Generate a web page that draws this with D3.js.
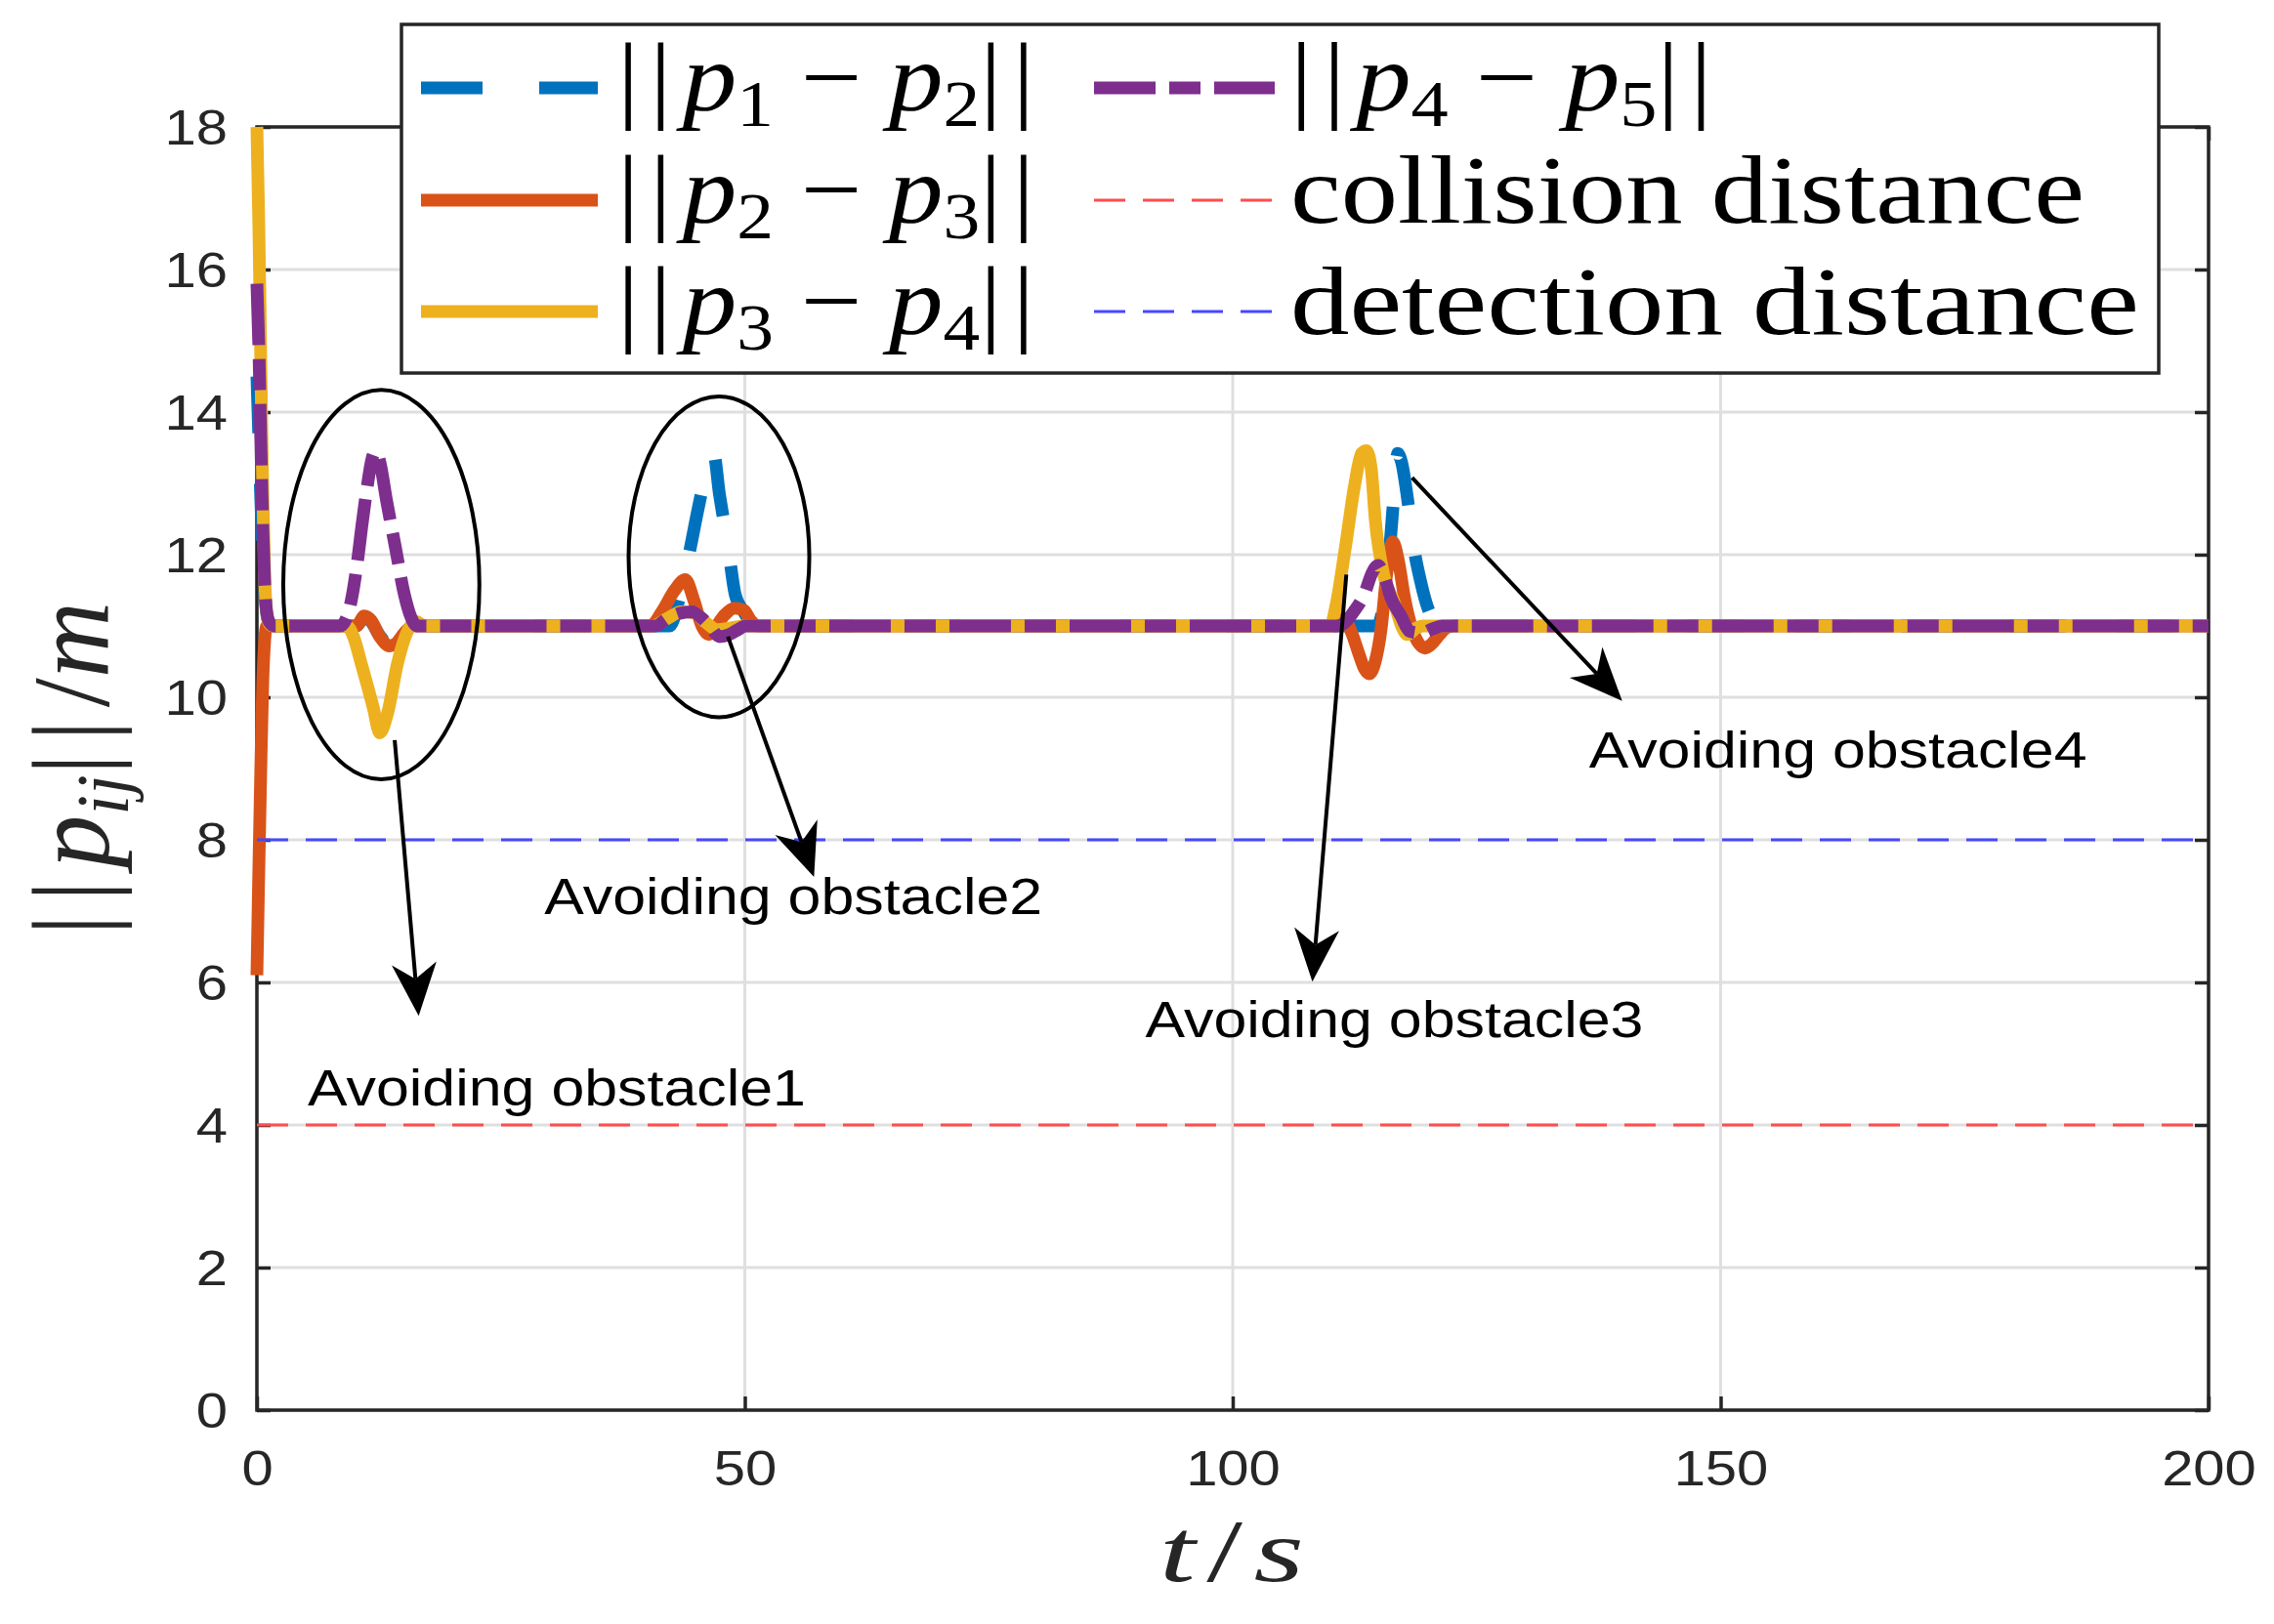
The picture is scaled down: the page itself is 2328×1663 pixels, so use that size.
<!DOCTYPE html>
<html><head><meta charset="utf-8">
<script src="https://cdn.jsdelivr.net/npm/d3@7"></script>
<style>body{margin:0;background:#fff}</style>
</head><body>
<svg id="c" width="2328" height="1663"></svg>
<script>
// ---------------- data ----------------
const xTicks = [0, 50, 100, 150, 200];
const yTicks = [0, 2, 4, 6, 8, 10, 12, 14, 16, 18];

// ||p1 - p2||  (t [s], distance [m])
const p12 = [[0,14.5],[0.3,13.2],[0.6,12.0],[0.9,11.3],[1.2,11.05],[1.6,11.0],
  [10.2,11.0],[11.0,11.12],[11.7,11.06],[12.6,10.86],[13.6,10.74],[14.3,10.77],[15.1,10.91],[16.0,11.0],
  [42.3,11.0],[43.3,11.4],[44.2,11.95],[45.3,12.7],[46.3,13.3],[46.8,13.42],[47.4,12.85],[48.3,12.1],[49.0,11.45],[49.8,11.22],[50.7,11.05],[51.5,11.0],
  [114.8,11.0],[115.6,11.45],[116.1,12.1],[116.5,12.8],[116.9,13.42],[117.3,13.3],[117.9,12.8],[118.5,12.15],[119.3,11.6],[120.0,11.25],[120.8,11.05],[121.6,11.0],
  [200,11.0]];
// ||p2 - p3||
const p23 = [[0,6.1],[0.2,7.6],[0.4,9.0],[0.6,10.2],[0.8,10.8],[1.0,11.0],[1.5,11.0],
  [10.2,11.0],[11.0,11.14],[11.7,11.08],[12.6,10.85],[13.6,10.72],[14.3,10.76],[15.1,10.9],[16.0,11.0],
  [40.3,11.0],[41.5,11.2],[42.8,11.5],[43.9,11.65],[44.8,11.35],[45.6,11.0],[46.3,10.88],[47.0,10.98],[47.9,11.15],[49.0,11.25],[49.9,11.22],[50.6,11.08],[51.3,11.0],
  [110.5,11.0],[111.4,11.1],[112.2,10.9],[112.9,10.62],[113.5,10.4],[114.0,10.33],[114.6,10.5],[115.2,10.95],[115.8,11.75],[116.4,12.18],[117.0,11.9],[117.6,11.4],[118.4,10.95],[119.1,10.75],[119.7,10.69],[120.4,10.75],[121.2,10.88],[122.0,10.98],[122.8,11.0],
  [200,11.0]];
// ||p3 - p4||
const p34 = [[0,18],[0.2,16.6],[0.4,14.7],[0.6,12.9],[0.8,11.7],[1.0,11.2],[1.3,11.03],[1.7,11.0],
  [9.2,11.0],[9.9,10.85],[10.7,10.47],[11.9,9.87],[12.6,9.5],[13.4,9.78],[14.4,10.47],[15.6,10.97],[16.3,11.06],[17.2,11.0],
  [40.5,11.0],[42.0,11.1],[43.5,11.2],[44.9,11.18],[46.0,11.05],[47.2,10.95],[48.5,10.97],[50.0,11.0],
  [110.0,11.0],[110.6,11.3],[111.5,12.06],[112.5,12.98],[113.2,13.42],[113.7,13.46],[114.2,13.2],[114.6,12.5],[115.5,11.7],[116.5,11.35],[117.3,11.0],[117.9,10.88],[118.8,10.97],[119.5,11.0],
  [200,11.0]];
// ||p4 - p5||
const p45 = [[0,15.8],[0.2,14.9],[0.4,13.6],[0.6,12.4],[0.8,11.6],[1.0,11.2],[1.3,11.05],[1.8,11.0],
  [8.5,11.0],[9.3,11.15],[9.8,11.45],[10.3,11.9],[10.8,12.45],[11.3,12.95],[11.8,13.35],[12.2,13.45],[12.6,13.3],[13.3,12.75],[14.2,12.1],[15.1,11.45],[15.8,11.12],[16.4,11.0],
  [40.8,11.0],[42.0,11.1],[43.4,11.18],[44.6,11.2],[45.5,11.12],[46.4,11.0],[47.4,10.85],[48.4,10.88],[49.2,10.94],[50.1,11.0],
  [110.6,11.0],[111.5,11.05],[112.4,11.2],[113.5,11.45],[114.3,11.75],[114.9,11.85],[115.5,11.7],[116.2,11.4],[117.2,11.15],[118.2,10.92],[119.3,10.9],[120.5,10.96],[121.5,11.0],
  [200,11.0]];

const collisionDistance = 4;
const detectionDistance = 8;

// annotations (data coordinates)
const ellipseCenters = [[12.75, 11.58], [47.35, 11.97]];
const ellipseRadii = [[10.05, 2.73], [9.26, 2.25]];
const arrowStarts = [[14.12, 9.40], [48.27, 10.85], [111.64, 11.72], [118.38, 13.08]];
const arrowEnds = [[16.58, 5.53], [57.09, 7.48], [108.16, 6.01], [139.91, 9.95]];
const noteTexts = ["Avoiding obstacle1", "Avoiding obstacle2", "Avoiding obstacle3", "Avoiding obstacle4"];
const notePos = [[5.21, 4.27], [29.45, 6.96], [91.04, 5.23], [136.5, 9.01]];

// ---------------- drawing ----------------
const W = 2328, H = 1663;
const svg = d3.select("#c");
svg.append("rect").attr("width", W).attr("height", H).attr("fill", "#fff");

const x = d3.scaleLinear().domain([0, 200]).range([263, 2261]);
const y = d3.scaleLinear().domain([0, 18]).range([1444, 130]);
const AX = "#262626";
const SANS = "'Liberation Sans', Arial, Helvetica, sans-serif";
const SERIF = "'Liberation Serif', 'Times New Roman', serif";

// grid
svg.append("g").selectAll("line.gx").data(xTicks).join("line").attr("class","gx")
  .attr("x1", d => x(d)).attr("x2", d => x(d)).attr("y1", y(0)).attr("y2", y(18))
  .attr("stroke", "#dfdfdf").attr("stroke-width", 3);
svg.append("g").selectAll("line.gy").data(yTicks).join("line").attr("class","gy")
  .attr("y1", d => y(d)).attr("y2", d => y(d)).attr("x1", x(0)).attr("x2", x(200))
  .attr("stroke", "#dfdfdf").attr("stroke-width", 3);

function styleAxis(g) {
  g.attr("font-size", null).attr("font-family", null);
  g.select(".domain").remove();
  g.selectAll("line").attr("stroke", AX).attr("stroke-width", 3.5);
}
const ax = svg.append("g").attr("transform", `translate(0,${y(0)})`)
  .call(d3.axisBottom(x).tickValues(xTicks).tickSizeInner(-14).tickSizeOuter(0));
styleAxis(ax);
ax.selectAll("text").attr("y", 77).attr("dy", null).attr("font-size", 50)
  .attr("font-family", SANS).attr("fill", AX).attr("transform", "scale(1.16,1)");

const ay = svg.append("g").attr("transform", `translate(${x(0)},0)`)
  .call(d3.axisLeft(y).tickValues(yTicks).tickSizeInner(-14).tickSizeOuter(0));
styleAxis(ay);
ay.selectAll("text").attr("x", 0).attr("dy", "0.35em").attr("font-size", 50)
  .attr("font-family", SANS).attr("fill", AX).attr("text-anchor", "end")
  .attr("transform", "translate(-30,0) scale(1.16,1)");

const at = svg.append("g").attr("transform", `translate(0,${y(18)})`)
  .call(d3.axisTop(x).tickValues(xTicks).tickSizeInner(-14).tickSizeOuter(0).tickFormat(""));
styleAxis(at);
const ar = svg.append("g").attr("transform", `translate(${x(200)},0)`)
  .call(d3.axisRight(y).tickValues(yTicks).tickSizeInner(-14).tickSizeOuter(0).tickFormat(""));
styleAxis(ar);

svg.append("rect").attr("x", x(0)).attr("y", y(18)).attr("width", x(200) - x(0)).attr("height", y(0) - y(18))
  .attr("fill", "none").attr("stroke", AX).attr("stroke-width", 3.5);

// series
const line = d3.line().x(d => x(d[0])).y(d => y(d[1])).curve(d3.curveMonotoneX);
const series = [
  {data: p12, color: "#0072BD", dash: "58,52"},
  {data: p23, color: "#D95319", dash: null},
  {data: p34, color: "#EDB120", dash: null},
  {data: p45, color: "#7E2F8E", dash: "63,14,32,14"}
];
svg.append("g").selectAll("path").data(series).join("path")
  .attr("d", d => line(d.data)).attr("fill", "none")
  .attr("stroke", d => d.color).attr("stroke-width", 13)
  .attr("stroke-dasharray", d => d.dash).attr("stroke-linejoin", "round");

// thresholds
const thr = [{v: collisionDistance, color: "#FF4D4D"}, {v: detectionDistance, color: "#4747FF"}];
svg.append("g").selectAll("path").data(thr).join("path")
  .attr("d", d => d3.line().x(p => x(p[0])).y(p => y(p[1]))([[0, d.v], [200, d.v]]))
  .attr("stroke", d => d.color).attr("stroke-width", 3).attr("stroke-dasharray", "32,18").attr("fill", "none");

// ellipses
svg.append("g").selectAll("ellipse").data(ellipseCenters).join("ellipse")
  .attr("cx", d => x(d[0])).attr("cy", d => y(d[1]))
  .attr("rx", (d, i) => x(ellipseRadii[i][0]) - x(0))
  .attr("ry", (d, i) => y(0) - y(ellipseRadii[i][1]))
  .attr("fill", "none").attr("stroke", "#000").attr("stroke-width", 4);

// arrows
const ag = svg.append("g");
arrowStarts.forEach((s, i) => {
  const x0 = x(s[0]), y0 = y(s[1]), x1 = x(arrowEnds[i][0]), y1 = y(arrowEnds[i][1]);
  const dx = x1 - x0, dy = y1 - y0, L = Math.hypot(dx, dy);
  const ux = dx / L, uy = dy / L, nx = -uy, ny = ux;
  const HL = 54, HW = 23, NOTCH = 38;
  const bx = x1 - HL * ux, by = y1 - HL * uy;
  const mx = x1 - NOTCH * ux, my = y1 - NOTCH * uy;
  ag.append("line").attr("x1", x0).attr("y1", y0).attr("x2", mx).attr("y2", my)
    .attr("stroke", "#000").attr("stroke-width", 4);
  ag.append("path").attr("d", `M${x1},${y1}L${bx + HW * nx},${by + HW * ny}L${mx},${my}L${bx - HW * nx},${by - HW * ny}Z`)
    .attr("fill", "#000");
});

function fit(sel, target, sy) {
  const w = sel.node().getBBox().width;
  return target / w;
}

// notes
noteTexts.forEach((t, i) => {
  const tx = svg.append("text").attr("font-family", SANS).attr("font-size", 52).attr("fill", "#000").text(t);
  const s = fit(tx, 510);
  tx.attr("transform", `translate(${x(notePos[i][0])},${y(notePos[i][1])}) scale(${s},1)`);
});

// legend
const lg = svg.append("g");
lg.append("rect").attr("x", 411).attr("y", 25).attr("width", 1799).attr("height", 357)
  .attr("fill", "#fff").attr("stroke", AX).attr("stroke-width", 3.5);
const rowsY = [113, 228, 342];
const legendItems = [
  {col: 0, row: 0, color: "#0072BD", dash: "63,58", w: 13, lab: ["1", "2"]},
  {col: 0, row: 1, color: "#D95319", dash: null, w: 13, lab: ["2", "3"]},
  {col: 0, row: 2, color: "#EDB120", dash: null, w: 13, lab: ["3", "4"]},
  {col: 1, row: 0, color: "#7E2F8E", dash: "63,14,32,14", w: 13, lab: ["4", "5"]},
  {col: 1, row: 1, color: "#FF4D4D", dash: "32,18", w: 3, lab: "collision distance"},
  {col: 1, row: 2, color: "#4747FF", dash: "32,18", w: 3, lab: "detection distance"}
];
const colSample = [[431, 612], [1120, 1305]];
const colText = [632, 1321];
const textTargets = {"collision distance": 813, "detection distance": 869};
legendItems.forEach(it => {
  const yb = rowsY[it.row];
  lg.append("line").attr("x1", colSample[it.col][0]).attr("x2", colSample[it.col][1])
    .attr("y1", yb - 23).attr("y2", yb - 23).attr("stroke", it.color)
    .attr("stroke-width", it.w).attr("stroke-dasharray", it.dash);
  const t = lg.append("text").attr("font-family", SERIF).attr("font-size", 100).attr("fill", "#000");
  let target;
  if (Array.isArray(it.lab)) {
    t.append("tspan").attr("letter-spacing", 10).text("||");
    t.append("tspan").attr("font-style", "italic").text("p");
    t.append("tspan").attr("font-size", 68).attr("dy", 16).text(it.lab[0]);
    t.append("tspan").attr("dy", -16).text(" \u2212 ");
    t.append("tspan").attr("font-style", "italic").text("p");
    t.append("tspan").attr("font-size", 68).attr("dy", 16).text(it.lab[1]);
    t.append("tspan").attr("dy", -16).attr("letter-spacing", 10).text("||");
    target = it.col === 0 ? 438 : 443;
  } else {
    t.text(it.lab);
    target = textTargets[it.lab];
  }
  const s = fit(t, target);
  t.attr("transform", `translate(${colText[it.col]},${yb}) scale(${s},1)`);
});

// axis labels
const xl = svg.append("text").attr("font-family", SERIF).attr("font-size", 92).attr("fill", AX)
  .attr("text-anchor", "middle");
xl.append("tspan").attr("font-style", "italic").text("t");
xl.append("tspan").attr("dx", 8).text("/");
xl.append("tspan").attr("dx", 8).attr("font-style", "italic").text("s");
const sxl = fit(xl, 148);
xl.attr("transform", `translate(1261,1619) scale(${sxl},1)`);

const ylg = svg.append("g").attr("transform", "translate(111,787) rotate(-90)");
const yl = ylg.append("text").attr("font-family", SERIF).attr("font-size", 100).attr("fill", AX)
  .attr("text-anchor", "middle");
yl.append("tspan").attr("letter-spacing", 12).text("||");
yl.append("tspan").attr("font-style", "italic").text("p");
yl.append("tspan").attr("font-style", "italic").attr("font-size", 68).attr("dy", 18).text("ij");
yl.append("tspan").attr("dy", -18).attr("letter-spacing", 12).text("||");
yl.append("tspan").text("/");
yl.append("tspan").attr("font-style", "italic").text("m");
const syl = fit(yl, 342);
yl.attr("transform", `scale(${syl},1.13)`);
</script>
</body></html>
